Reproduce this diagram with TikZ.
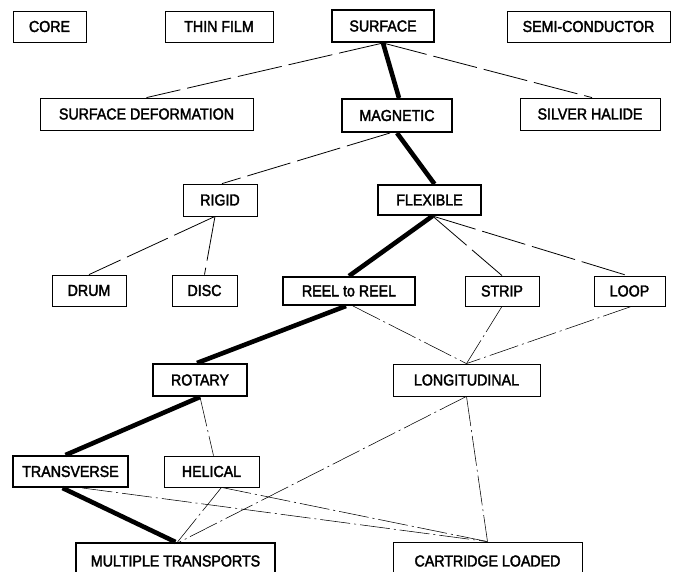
\documentclass[tikz,border=0pt]{standalone}
\usepackage{fontspec}
\setmainfont{Liberation Sans}[FakeBold=2.2, FakeStretch=0.9]
\begin{document}
\begin{tikzpicture}[x=1pt,y=-1pt,
  box/.style={draw, line width=0.8pt, inner sep=0pt, font=\fontsize{15.8}{17}\selectfont},
  tbox/.style={box, line width=2pt},
  main/.style={line width=4.6pt},
  dsh/.style={line width=0.8pt, dash pattern=on 45pt off 7pt},
  thin/.style={line width=0.55pt, dash pattern=on 30pt off 4pt on 2pt off 4pt}]
\useasboundingbox (0,0) rectangle (675,572);
\clip (0,0) rectangle (675,572);
% row 1
\node[box, minimum width=73pt, minimum height=31pt] (core) at (49.5,26.5) {CORE};
\node[box, minimum width=108pt, minimum height=31pt] (thin) at (219,26.5) {THIN FILM};
\node[tbox, minimum width=102pt, minimum height=32pt] (surface) at (383,26) {SURFACE};
\node[box, minimum width=163pt, minimum height=31pt] (semi) at (588.5,26.5) {SEMI-CONDUCTOR};
% row 2
\node[box, minimum width=213pt, minimum height=32pt] (surfdef) at (146.5,114) {SURFACE DEFORMATION};
\node[tbox, minimum width=110pt, minimum height=33pt] (magnetic) at (397,115.5) {MAGNETIC};
\node[box, minimum width=140pt, minimum height=32pt] (silver) at (590,114) {SILVER HALIDE};
% row 3
\node[box, minimum width=74pt, minimum height=32pt] (rigid) at (220,200) {RIGID};
\node[tbox, minimum width=103pt, minimum height=30pt] (flexible) at (429.5,200) {FLEXIBLE};
% row 4
\node[box, minimum width=74pt, minimum height=31pt] (drum) at (89,290.5) {DRUM};
\node[box, minimum width=65pt, minimum height=31pt] (disc) at (204.5,290.5) {DISC};
\node[tbox, minimum width=132pt, minimum height=28pt] (reel) at (349,291) {REEL to REEL};
\node[box, minimum width=74pt, minimum height=30pt] (strip) at (502,291) {STRIP};
\node[box, minimum width=71pt, minimum height=30pt] (loop) at (629.5,291) {LOOP};
% row 5
\node[tbox, minimum width=94pt, minimum height=32pt] (rotary) at (200,380) {ROTARY};
\node[box, minimum width=147pt, minimum height=32pt] (longit) at (466.5,380) {LONGITUDINAL};
% row 6
\node[tbox, minimum width=115pt, minimum height=31pt] (transverse) at (70.5,471.5) {TRANSVERSE};
\node[box, minimum width=95pt, minimum height=31pt] (helical) at (211.5,471.5) {HELICAL};
% row 7
\node[tbox, minimum width=199pt, minimum height=36pt] (multiple) at (175.5,561) {MULTIPLE TRANSPORTS};
\node[box, minimum width=189pt, minimum height=38pt] (cartridge) at (487.5,561) {CARTRIDGE LOADED};
% main path
\draw[main] (surface.south) -- ([xshift=2pt]magnetic.north);
\draw[main] (magnetic.south) -- ([xshift=5pt]flexible.north);
\draw[main] ([xshift=3pt]flexible.south) -- (reel.north);
\draw[main] ([xshift=-3pt]reel.south) -- ([xshift=-3pt]rotary.north);
\draw[main] (rotary.south) -- ([xshift=-5pt]transverse.north);
\draw[main] ([xshift=-8pt]transverse.south) -- (multiple.north);
% dashed connectors
\draw[dsh] (surface.south) -- (surfdef.north);
\draw[dsh] (surface.south) -- ([xshift=2pt]silver.north);
\draw[dsh] ([xshift=-7pt]magnetic.south) -- ([xshift=2pt]rigid.north);
\draw[dsh] ([xshift=-5pt]rigid.south) -- (drum.north);
\draw[dsh] ([xshift=-5pt]rigid.south) -- (disc.north);
\draw[dsh] ([xshift=3pt]flexible.south) -- (strip.north);
\draw[dsh] ([xshift=3pt]flexible.south) -- ([xshift=-2pt]loop.north);
\draw[thin] ([xshift=4pt]reel.south) -- (longit.north);
\draw[thin] (strip.south) -- (longit.north);
\draw[thin] ([xshift=2pt]loop.south) -- (longit.north);
\draw[thin] (rotary.south) -- ([xshift=2pt]helical.north);
\draw[thin] (longit.south) -- ([xshift=4pt]multiple.north);
\draw[thin] (longit.south) -- (cartridge.north);
\draw[thin] ([xshift=10pt]helical.south) -- ([xshift=2pt]multiple.north);
\draw[thin] ([xshift=10pt]helical.south) -- (cartridge.north);
\draw[thin] ([xshift=12pt]transverse.south) -- (cartridge.north);
\end{tikzpicture}
\end{document}
